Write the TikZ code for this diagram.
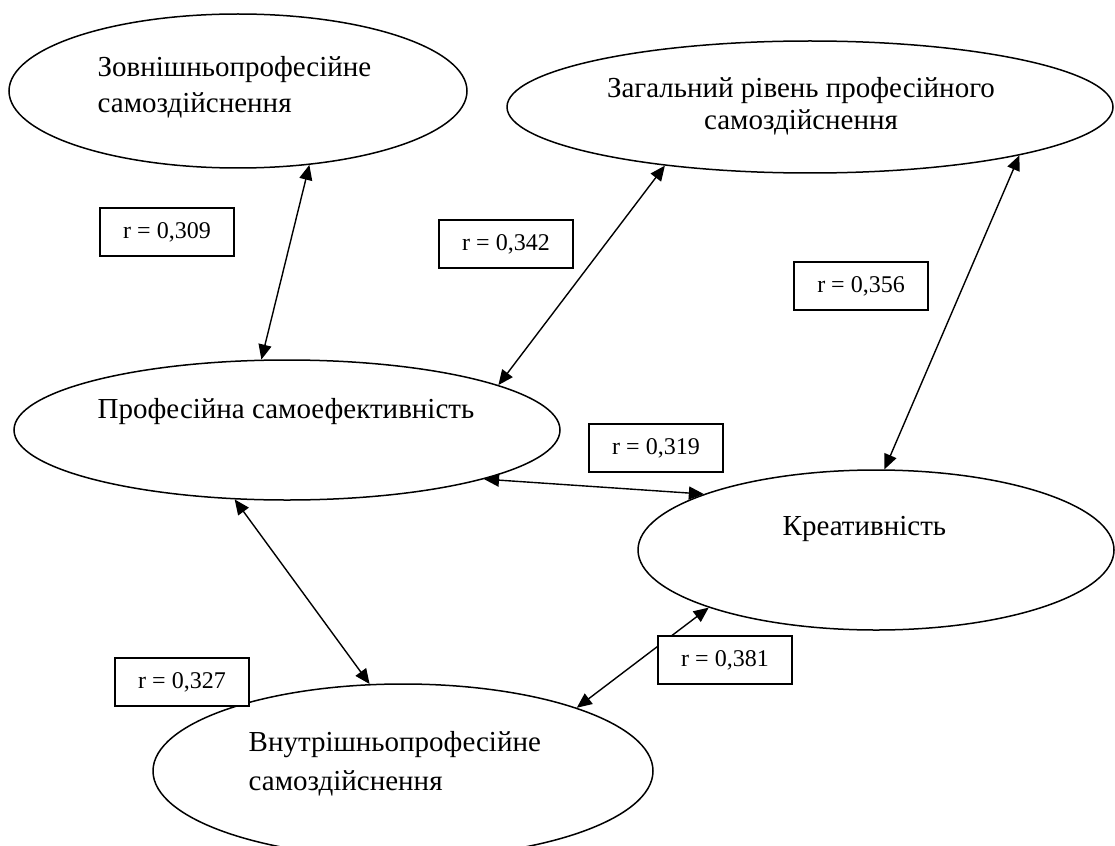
\documentclass[tikz,border=0pt]{standalone}
\usepackage{fontspec}
\setmainfont{Liberation Serif}
\usetikzlibrary{arrows.meta,shapes.geometric}

\begin{document}
\begin{tikzpicture}[x=1pt,y=-1pt,line width=1.4pt,>={Triangle[length=15pt,width=13pt]},
  oval/.style={draw,ellipse,inner sep=0pt,line width=1.5pt},
  txt/.style={font=\fontsize{29}{33}\selectfont,inner sep=0pt},
  rbox/.style={draw,fill=white,minimum width=134pt,minimum height=48pt,inner sep=0pt,font=\fontsize{24}{28}\selectfont}]
\useasboundingbox (0,0) rectangle (1115,845);
\node[oval,minimum width=458pt,minimum height=154pt] (ext) at (238,91) {};
\node[oval,minimum width=606pt,minimum height=132pt] (gen) at (810,107) {};
\node[oval,minimum width=546pt,minimum height=140pt] (eff) at (287,430) {};
\node[oval,minimum width=476pt,minimum height=160pt] (cre) at (876,550) {};
\node[oval,minimum width=500pt,minimum height=174pt] (int) at (403,771) {};
\node[txt,anchor=base west,align=left] (ext-t) at (97,113) {Зовнішньопрофесійне\\[3pt]самоздійснення};
\node[txt,anchor=base,align=center] (gen-t) at (801,130) {Загальний рівень професійного\\[-1pt]самоздійснення};
\node[txt,anchor=base west] (eff-t) at (97,418) {Професійна самоефективність};
\node[txt,anchor=base west] (cre-t) at (782,535) {Креативність};
\node[txt,anchor=base west,align=left] (int-t) at (248,790) {Внутрішньопрофесійне\\[6pt]самоздійснення};
\path[<->] (ext.-46) edge (eff.110)
      (gen.-158) edge (eff.12)
      (gen.-13) edge (cre.84)
      (eff.-14) edge (cre.162)
      (eff.-127) edge (int.111)
      (cre.-161) edge (int.20)
;
\node[rbox] (r309) at (167,232) {r = 0,309};
\node[rbox] (r342) at (506,244) {r = 0,342};
\node[rbox] (r356) at (861,286) {r = 0,356};
\node[rbox] (r319) at (656,448) {r = 0,319};
\node[rbox] (r327) at (182,682) {r = 0,327};
\node[rbox] (r381) at (725,660) {r = 0,381};
\end{tikzpicture}
\end{document}
